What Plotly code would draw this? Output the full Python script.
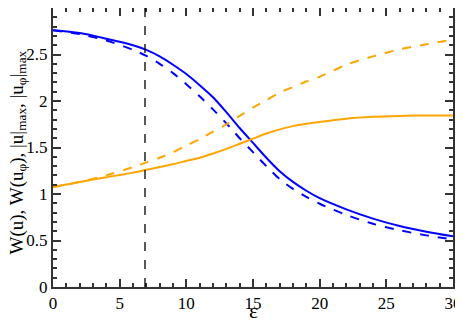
import plotly.graph_objects as go

eps = [0, 2, 4, 6, 7, 8, 9, 10, 11, 12, 13, 14, 15, 16, 17, 18, 19, 20, 22, 24, 26, 28, 30]

w_u = [2.76, 2.73, 2.67, 2.60, 2.55, 2.48, 2.39, 2.29, 2.17, 2.04, 1.88, 1.71,
       1.55, 1.39, 1.245, 1.13, 1.035, 0.955, 0.835, 0.735, 0.655, 0.595, 0.545]
w_uphi = [2.76, 2.72, 2.65, 2.55, 2.485, 2.40, 2.30, 2.18, 2.05, 1.91, 1.76, 1.60,
          1.45, 1.30, 1.16, 1.055, 0.97, 0.895, 0.775, 0.68, 0.61, 0.555, 0.51]
u_max = [1.075, 1.13, 1.18, 1.23, 1.26, 1.29, 1.32, 1.355, 1.39, 1.435, 1.485, 1.54,
         1.595, 1.65, 1.695, 1.73, 1.755, 1.775, 1.81, 1.83, 1.84, 1.845, 1.845]
uphi_max = [1.075, 1.13, 1.20, 1.29, 1.34, 1.39, 1.45, 1.52, 1.59, 1.67, 1.75, 1.84,
            1.93, 2.01, 2.09, 2.15, 2.21, 2.26, 2.39, 2.48, 2.555, 2.61, 2.66]

eps_mark = 6.9

x_title = "ε"
y_title = "W(u), W(u<sub>φ</sub>), |u|<sub>max</sub>, |u<sub>φ</sub>|<sub>max</sub>"

BLUE = "#0000ff"
ORANGE = "#ffa500"
FONT = "Liberation Serif"

fig = go.Figure()

series = [
    (w_u, BLUE, "solid"),
    (w_uphi, BLUE, "dash"),
    (u_max, ORANGE, "solid"),
    (uphi_max, ORANGE, "dash"),
]
for vals, col, dash in series:
    fig.add_trace(go.Scatter(
        x=eps, y=vals, mode="lines",
        line=dict(color=col, width=2, dash=dash, shape="spline", smoothing=0.8),
        showlegend=False
    ))

fig.add_vline(x=eps_mark, line=dict(color="black", width=1.3, dash="dash"))

# axis titles placed by hand, automargin is off
fig.add_annotation(
    text=x_title, xref="paper", yref="paper", x=0.5, y=0,
    yanchor="middle", yshift=-23, showarrow=False,
    font=dict(family=FONT, size=22, color="black")
)
fig.add_annotation(
    text=y_title, xref="paper", yref="paper", x=0, y=0.5,
    xanchor="center", xshift=-36, yshift=-5, textangle=-90, showarrow=False,
    font=dict(family=FONT, size=19, color="black")
)

axis_common = dict(
    showgrid=False,
    zeroline=False,
    showline=True,
    linecolor="#333333",
    linewidth=2,
    mirror="allticks",
    ticks="inside",
    ticklen=8,
    tickwidth=1.5,
    tickcolor="#333333",
    automargin=False,
    tickfont=dict(family=FONT, size=17, color="black"),
)

fig.update_xaxes(
    range=[0, 30], dtick=5,
    minor=dict(ticks="inside", dtick=1, ticklen=4, tickcolor="#333333", tickwidth=1.5),
    **axis_common
)
fig.update_yaxes(
    range=[0, 3], dtick=0.5,
    minor=dict(ticks="inside", dtick=0.1, ticklen=4, tickcolor="#333333", tickwidth=1.5),
    **axis_common
)

# page body keeps an 8px default margin, so the figure is 8px smaller
fig.update_layout(
    width=455, height=314,
    margin=dict(l=45, r=10, t=0, b=35),
    font=dict(family=FONT, color="black"),
    plot_bgcolor="white",
    paper_bgcolor="white",
)

fig.write_html("out.html")
